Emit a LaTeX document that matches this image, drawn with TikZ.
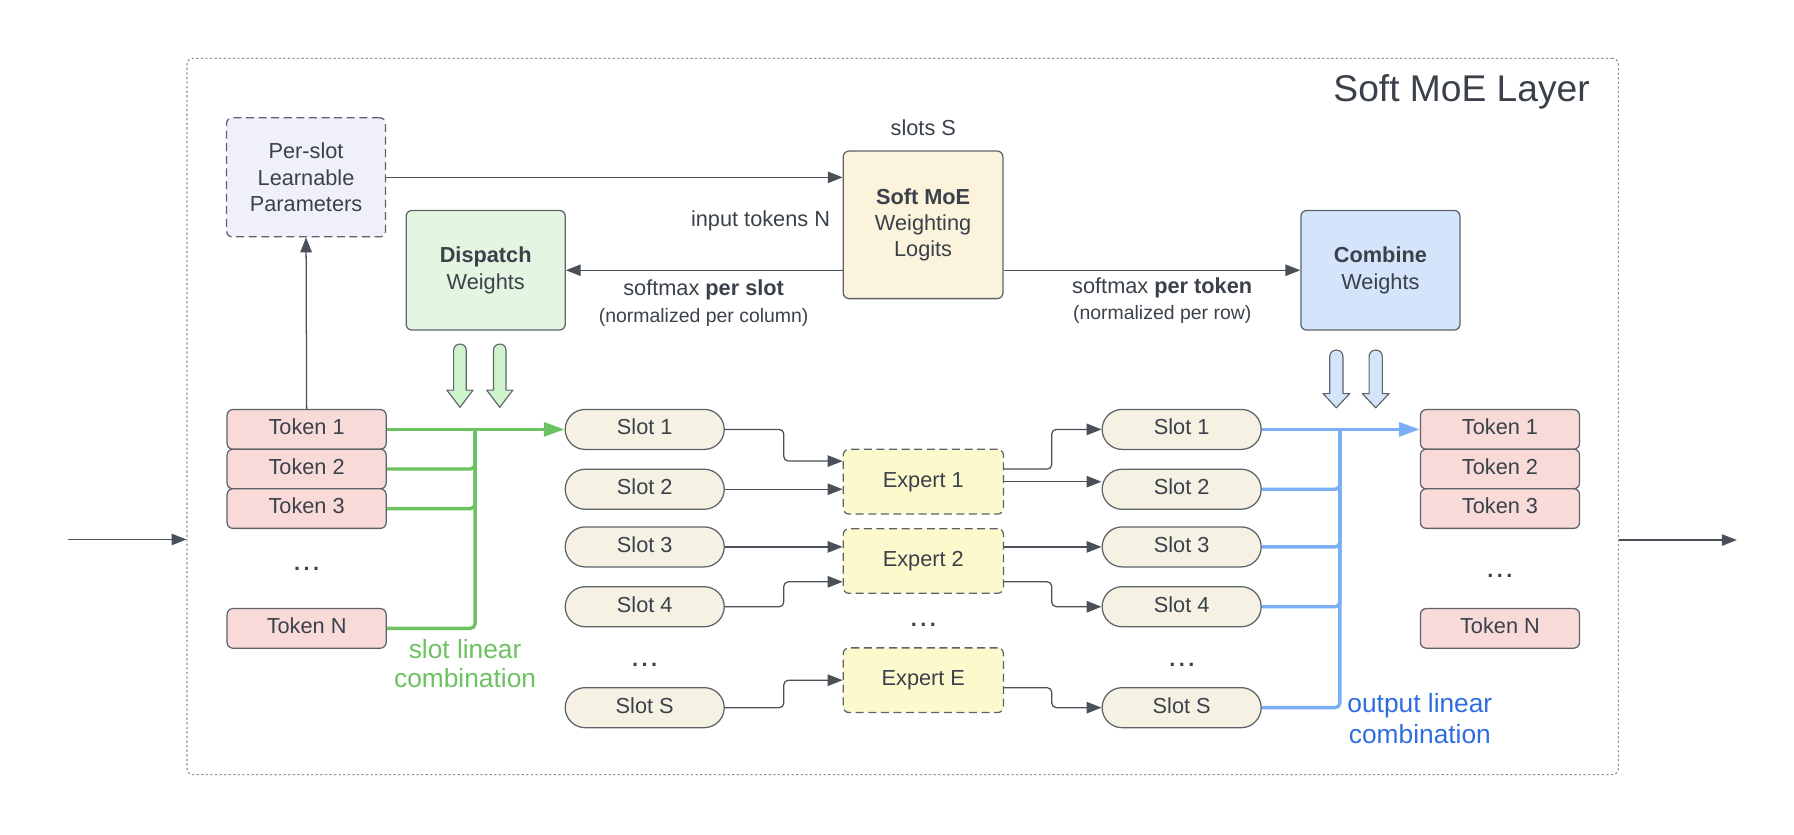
\documentclass[tikz,border=0pt]{standalone}
\usepackage{fontspec}
\setmainfont{Liberation Sans}
\usetikzlibrary{arrows.meta}

\definecolor{tinta}{HTML}{3A414A}
\definecolor{borda}{HTML}{5E6369}
\definecolor{linha}{HTML}{4A5058}
\definecolor{fundoPar}{HTML}{F0F0FD}
\definecolor{fundoDis}{HTML}{E4F6E2}
\definecolor{fundoMoe}{HTML}{FBF3DB}
\definecolor{fundoCom}{HTML}{D3E4FB}
\definecolor{fundoTok}{HTML}{F8DAD9}
\definecolor{fundoSlot}{HTML}{F5F2E4}
\definecolor{fundoExp}{HTML}{FCF9CD}
\definecolor{verde}{HTML}{6CC160}
\definecolor{verdeSeta}{HTML}{CFF3CD}
\definecolor{azul}{HTML}{7BAEF5}
\definecolor{azulTxt}{HTML}{2F6CE0}

\begin{document}
\begin{tikzpicture}[x=1pt, y=-1pt,
    txt/.style={text=tinta, font=\fontsize{19}{23}\selectfont},
    caixa/.style={txt, draw=borda, line width=1.1pt, rounded corners=5pt, inner sep=0pt, align=center, minimum width=139pt},
    umalinha/.style={text height=13.9pt, text depth=4.5pt},
    token/.style={caixa, umalinha, fill=fundoTok, minimum height=34.6pt},
    slot/.style={caixa, umalinha, fill=fundoSlot, minimum height=35pt, rounded corners=17.5pt},
    expert/.style={caixa, umalinha, fill=fundoExp, minimum width=140pt, minimum height=56.5pt, dash pattern=on 7pt off 4pt},
    pesos/.style={caixa, minimum height=104.5pt},
    seta/.style={draw=linha, line width=1.1pt, -{Triangle[length=13pt,width=10pt]}},
    dobra/.style={seta, rounded corners=4pt},
    combverde/.style={draw=verde, line width=3pt, rounded corners=4pt},
    combazul/.style={draw=azul, line width=3pt, rounded corners=4pt},
    pontas/.style={-{Triangle[length=18pt,width=12pt]}},
    gorda/.style={draw=borda, line width=1pt, line join=round},
    pontos/.style={txt, font=\fontsize{19}{23}\selectfont\bfseries},
  ]
        \useasboundingbox (0,0) rectangle (1568,729);

        % Camada
        \node[draw=gray!85, line width=1pt, dash pattern=on 2pt off 2pt, rounded corners=5pt, minimum width=1251pt, minimum height=626pt, inner sep=0pt] (camada) at (789,364) {};
        \node[txt, font=\fontsize{32.5}{38}\selectfont, anchor=east] (titulo) at (1393,80) {Soft MoE Layer};

        % Pesos
        \node[caixa, fill=fundoPar, minimum height=104pt, dash pattern=on 7pt off 4pt] (param) at (267.5,155) {Per-slot\\Learnable\\Parameters};
        \node[pesos, fill=fundoDis] (disp) at (424.5,236.2) {\textbf{Dispatch}\\Weights};
        \node[caixa, fill=fundoMoe, minimum width=139.5pt, minimum height=129pt] (logits) at (806.8,196.5) {\textbf{Soft MoE}\\Weighting\\Logits};
        \node[pesos, fill=fundoCom] (comb) at (1206.5,236.2) {\textbf{Combine}\\Weights};

        \node[txt] (slotsS) at (807,112) {slots S};
        \node[txt, anchor=east] (tokN) at (729,193) {input tokens N};
        \node[txt, align=center] (sdisp) at (615,265) {softmax \textbf{per slot}\\{\fontsize{17}{20}\selectfont(normalized per column)}};
        \node[txt, align=center] (scomb) at (1015.8,262.5) {softmax \textbf{per token}\\{\fontsize{17}{20}\selectfont(normalized per row)}};

        % Tokens de entrada
        \node[token] (te1) at (268,375.3) {Token 1};
        \node[token] (te2) at (268,409.9) {Token 2};
        \node[token] (te3) at (268,444.5) {Token 3};
        \node[pontos] (teD) at (268,497.5) {.\hspace{3pt}.\hspace{3pt}.};
        \node[token] (teN) at (268,549.2) {Token N};

        % Slots
        \node[slot] (se1) at (563.5,375.3) {Slot 1};
        \node[slot] (se2) at (563.5,427.6) {Slot 2};
        \node[slot] (se3) at (563.5,478) {Slot 3};
        \node[slot] (se4) at (563.5,530.3) {Slot 4};
        \node[pontos] (seD) at (563.5,581) {.\hspace{3pt}.\hspace{3pt}.};
        \node[slot] (seS) at (563.5,618.5) {Slot S};

        % Experts
        \node[expert] (ex1) at (807,421) {Expert 1};
        \node[expert] (ex2) at (807,490.3) {Expert 2};
        \node[pontos] (exD) at (807,546) {.\hspace{3pt}.\hspace{3pt}.};
        \node[expert] (exE) at (807,594.5) {Expert E};

        \node[slot] (sd1) at (1032.8,375.3) {Slot 1};
        \node[slot] (sd2) at (1032.8,427.6) {Slot 2};
        \node[slot] (sd3) at (1032.8,478) {Slot 3};
        \node[slot] (sd4) at (1032.8,530.3) {Slot 4};
        \node[pontos] (sdD) at (1033,581) {.\hspace{3pt}.\hspace{3pt}.};
        \node[slot] (sdS) at (1032.8,618.5) {Slot S};

        % Tokens de saida
        \node[token] (td1) at (1311,375.3) {Token 1};
        \node[token] (td2) at (1311,409.9) {Token 2};
        \node[token] (td3) at (1311,444.5) {Token 3};
        \node[pontos] (tdD) at (1311,503.5) {.\hspace{3pt}.\hspace{3pt}.};
        \node[token] (tdN) at (1311,549.2) {Token N};

        % Setas
        \coordinate (entra) at (59,471.5);
        \coordinate (sai) at (1518,472);
        \draw[seta] (entra) -- (entra -| camada.west);
        \draw[seta] (camada.east |- sai) -- (sai);

        \draw[seta] (te1.north) -- (param.south);
        \draw[seta] (param.east) -- (param.east -| logits.west);
        \draw[seta] (disp.east -| logits.west) -- (disp.east);
        \draw[seta] (comb.west -| logits.east) -- (comb.west);

        \foreach \x in {402,436.8}
            \draw[gorda, fill=verdeSeta] (\x,356) -- (\x-11.4,341) -- (\x-5.5,341) -- (\x-5.5,306.2) .. controls (\x-5.5,298.9) and (\x+5.5,298.9) .. (\x+5.5,306.2) -- (\x+5.5,341) -- (\x+11.4,341) -- cycle;
        \foreach \x in {1168,1202.4}
            \draw[gorda, fill=fundoCom] (\x,356.4) -- (\x-11.7,344) -- (\x-5.8,344) -- (\x-5.8,311.8) .. controls (\x-5.8,304) and (\x+5.8,304) .. (\x+5.8,311.8) -- (\x+5.8,344) -- (\x+11.7,344) -- cycle;

        % Combinacao linear dos slots
        \coordinate (barraV) at (415.2,375.3);
        \foreach \t in {te2,te3,teN}
            \draw[combverde] (\t.east) -| (barraV);
        \draw[combverde, pontas] (te1.east) -- (se1.west);
        \node[txt, text=verde, font=\fontsize{23}{26}\selectfont, align=center] (lblV) at (406.5,580) {slot linear\\combination};

        % Slots para experts
        \draw[dobra] (se1.east) -- ++(51.5,0) |- ([yshift=18pt]ex1.west);
        \draw[seta] (se2.east) -- (se2.east -| ex1.west);
        \draw[seta] (se3.east) -- (se3.east -| ex2.west);
        \draw[dobra] (se4.east) -- ++(51.5,0) |- ([yshift=-18.2pt]ex2.west);
        \draw[dobra] (seS.east) -- ++(51.5,0) |- (exE.west);

        \draw[dobra] ([yshift=11pt]ex1.east) -- ++(41.7,0) |- (sd1.west);
        \draw[seta] (ex1.east) -- (ex1.east -| sd2.west);
        \draw[seta] (sd3.west -| ex2.east) -- (sd3.west);
        \draw[dobra] ([yshift=-18.2pt]ex2.east) -- ++(41.7,0) |- (sd4.west);
        \draw[dobra] ([yshift=-6.5pt]exE.east) -- ++(41.7,0) |- (sdS.west);

        % Combinacao linear de saida
        \coordinate (barraA) at (1171,375.3);
        \foreach \s in {sd2,sd3,sd4,sdS}
            \draw[combazul] (\s.east) -| (barraA);
        \draw[combazul, pontas] (sd1.east) -- (td1.west);
        \node[txt, text=azulTxt, font=\fontsize{23}{27}\selectfont, align=center] (lblA) at (1241,628) {output linear\\combination};
    \end{tikzpicture}
\end{document}
